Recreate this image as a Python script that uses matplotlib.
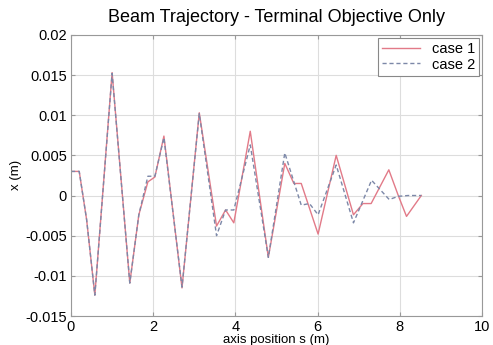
import matplotlib
matplotlib.use('Agg')
import matplotlib.pyplot as plt
from matplotlib.ticker import FuncFormatter

plt.rcParams['font.family'] = ['Liberation Sans', 'DejaVu Sans']

# case 1 (solid red)
s1 = [0, 0.2, 0.38, 0.58, 1.0, 1.43, 1.65, 1.87, 2.04, 2.26, 2.7, 3.12, 3.54, 3.76, 3.96,
      4.36, 4.8, 5.2, 5.42, 5.6, 6.01, 6.45, 6.87, 7.1, 7.3, 7.73, 7.96, 8.16, 8.52]
x1 = [0.003, 0.003, -0.003, -0.0124, 0.0153, -0.0109, -0.0024, 0.0017, 0.0023, 0.0074,
      -0.0115, 0.0103, -0.0038, -0.0018, -0.0034, 0.0080, -0.0077, 0.0040, 0.0015, 0.0015,
      -0.0048, 0.0050, -0.0024, -0.0010, -0.0010, 0.0032, 0.0, -0.0026, 0.0]

# case 2 (dashed)
s2 = [0, 0.2, 0.38, 0.58, 1.0, 1.43, 1.65, 1.87, 2.04, 2.26, 2.7, 3.12, 3.54, 3.76, 3.96,
      4.36, 4.8, 5.2, 5.6, 5.8, 6.01, 6.45, 6.87, 7.31, 7.74, 7.96, 8.2, 8.52]
x2 = [0.003, 0.003, -0.003, -0.0124, 0.0152, -0.0109, -0.0024, 0.0024, 0.0024, 0.0072,
      -0.0114, 0.0102, -0.0050, -0.0018, -0.0018, 0.0063, -0.0077, 0.0053, -0.0012, -0.0010,
      -0.0024, 0.0038, -0.0034, 0.0019, -0.0005, -0.0001, 0.0, 0.0]

xticks = [0, 2, 4, 6, 8, 10]
yticks = [-0.015, -0.01, -0.005, 0, 0.005, 0.01, 0.015, 0.02]

fig = plt.figure(figsize=(4.93, 3.45), dpi=100)
ax = fig.add_axes([0.144, 0.084, 0.834, 0.815])

ax.plot(s1, x1, color='#e27a88', linewidth=1.0, label='case 1')
ax.plot(s2, x2, color='#7c88a8', linewidth=1.0, linestyle=(0, (3, 2)), label='case 2')

ax.set_xlim(0, 10)
ax.set_ylim(-0.015, 0.02)
ax.set_xticks(xticks)
ax.set_yticks(yticks)
ax.yaxis.set_major_formatter(FuncFormatter(lambda v, p: '%g' % round(v, 4)))
ax.tick_params(direction='in', length=3, labelsize=10.5, color='#999999', pad=3,
               top=True, right=True)
ax.grid(True, color='#dddddd', linewidth=0.8)
for sp in ax.spines.values():
    sp.set_color('#999999')
    sp.set_linewidth(0.8)

ax.set_title('Beam Trajectory - Terminal Objective Only', fontsize=13, pad=9)
ax.set_xlabel('axis position s (m)', fontsize=9.5, labelpad=0)
ax.set_ylabel('x (m)', fontsize=9.5, labelpad=2)

leg = ax.legend(loc='upper right', fontsize=10.5, fancybox=False, framealpha=1,
                borderaxespad=0.2, handlelength=2.6, borderpad=0.3, labelspacing=0.1)
leg.get_frame().set_edgecolor('#888888')
leg.get_frame().set_linewidth(0.8)

fig.savefig('out.png', dpi=100)
